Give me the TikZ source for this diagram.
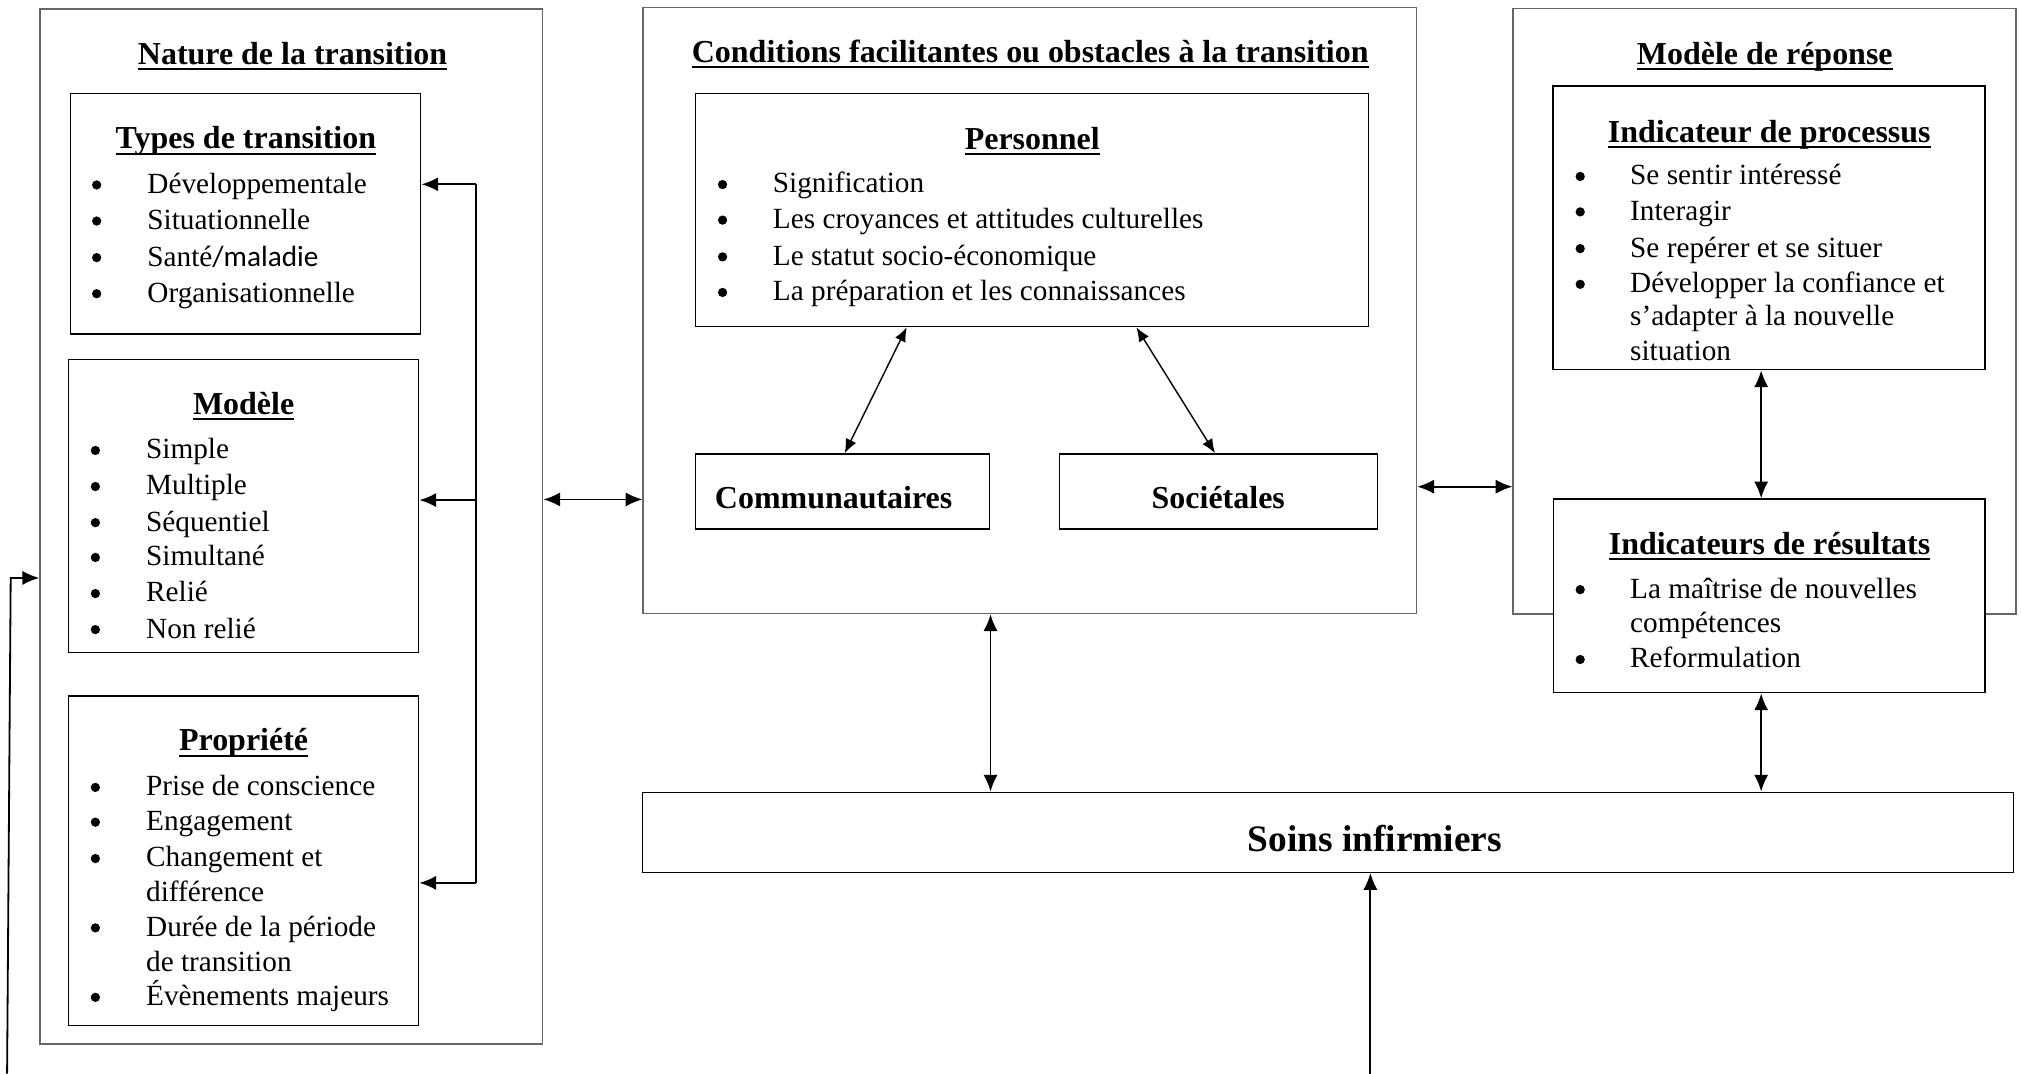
\documentclass[tikz,border=0pt]{standalone}
\usepackage{fontspec}
\setmainfont{Liberation Serif}
\newfontfamily\calibri{Carlito}
\usetikzlibrary{fit,arrows.meta}
\newcommand\ulh[1]{\setbox0\hbox{#1}\rlap{\rule[-2.3pt]{\wd0}{0.8pt}}\box0}
\newcommand\bodyf{\fontsize{11.35}{14}\selectfont}
\newcommand\headf{\fontsize{12.4}{15}\selectfont\bfseries}
\newcommand\bignf{\fontsize{14.5}{17}\selectfont\bfseries}
\newcommand\itm[5]{\node[bul] (#1b) at (#2,#4+0.5) {}; \node[btxt] (#1) at (#3,#4+7) {#5};}
\newcommand\cnt[4]{\node[btxt] (#1) at (#2,#3+7) {#4};}
\begin{document}
\begin{tikzpicture}[x=0.5pt,y=-0.5pt,
 box/.style={draw=black, line width=0.55pt, fill=white, inner sep=0pt},
 obox/.style={draw=black!60, line width=0.6pt, fill=white, inner sep=0pt},
 htxt/.style={anchor=base, inner sep=0pt, font=\headf},
 btxt/.style={anchor=base west, inner sep=0pt, font=\bodyf},
 bul/.style={circle, fill=black, inner sep=0pt, minimum size=3.6pt},
 arr/.style={line width=0.7pt, -{Latex[length=6.5pt,width=5.5pt]}},
 darr/.style={line width=0.7pt, {Latex[length=6.5pt,width=5.5pt]}-{Latex[length=6.5pt,width=5.5pt]}},
 sarr/.style={line width=0.55pt, {Latex[length=5.5pt,width=4.5pt]}-{Latex[length=5.5pt,width=4.5pt]}},
]
\useasboundingbox[fill=white] (0,0) rectangle (1568,833);

% outer boxes
\node[obox, fit={(31,7)(421,810)}] (nature) {};
\node[obox, fit={(499,6)(1099,476)}] (cond) {};
\node[obox, fit={(1174,6.5)(1564,476.5)}] (rep) {};
% inner boxes
\node[box, fit={(54.5,72.5)(326.4,259)}] (types) {};
\node[box, fit={(53,278.8)(324.8,506.2)}] (modele) {};
\node[box, fit={(53,540)(324.8,795.6)}] (prop) {};
\node[box, fit={(539.7,72.7)(1061.7,253.4)}] (pers) {};
\node[box, fit={(539.7,352.2)(767.7,410.5)}] (comm) {};
\node[box, fit={(822,352.2)(1068.8,410.5)}] (soc) {};
\node[box, fit={(1204.8,66.6)(1540,286.8)}] (proc) {};
\node[box, fit={(1205.3,387.2)(1540.2,537.5)}] (res) {};
\node[box, fit={(498.6,614.7)(1562.3,676.8)}] (soins) {};

% titles
\node[htxt] (tnat) at (227,49.8) {\ulh{Nature de la transition}};
\node[htxt] (ttyp) at (190.8,115.4) {\ulh{Types de transition}};
\node[htxt] (tmod) at (189,321.3) {\ulh{Modèle}};
\node[htxt] (tprop) at (189,582.4) {\ulh{Propriété}};
\node[htxt] (tcond) at (799.3,48.4) {\ulh{Conditions facilitantes ou obstacles à la transition}};
\node[htxt] (tpers) at (800.9,115.9) {\ulh{Personnel}};
\node[htxt] (tcomm) at (646.8,394.2) {Communautaires};
\node[htxt] (tsoc) at (945.2,394.2) {Sociétales};
\node[htxt] (trep) at (1369.2,49.7) {\ulh{Modèle de réponse}};
\node[htxt] (tproc) at (1372.7,110.3) {\ulh{Indicateur de processus}};
\node[htxt] (tres) at (1372.9,430.2) {\ulh{Indicateurs de résultats}};
\node[htxt, font=\bignf] (tsoins) at (1066.7,661) {Soins infirmiers};

% Types de transition
\itm{ty1}{75}{114}{143}{Développementale}
\itm{ty2}{75}{114}{171}{Situationnelle}
\itm{ty3}{75}{114}{199.4}{Santé{\calibri/maladie}}
\itm{ty4}{75}{114}{227.4}{Organisationnelle}
% Modele
\itm{mo1}{74}{113}{349}{Simple}
\itm{mo2}{74}{113}{377}{Multiple}
\itm{mo3}{74}{113}{405}{Séquentiel}
\itm{mo4}{74}{113}{432}{Simultané}
\itm{mo5}{74}{113}{460}{Relié}
\itm{mo6}{74}{113}{488}{Non relié}
% Propriete
\itm{pr1}{74}{113}{610.4}{Prise de conscience}
\itm{pr2}{74}{113}{637.4}{Engagement}
\itm{pr3}{74}{113}{665.6}{Changement et}
\cnt{pr3c}{113}{692.5}{différence}
\itm{pr4}{74}{113}{719.4}{Durée de la période}
\cnt{pr4c}{113}{746.4}{de transition}
\itm{pr5}{74}{113}{773.3}{Évènements majeurs}
% Personnel
\itm{pe1}{560.6}{599.3}{142.7}{Signification}
\itm{pe2}{560.6}{599.3}{170.3}{Les croyances et attitudes culturelles}
\itm{pe3}{560.6}{599.3}{198.8}{Le statut socio-économique}
\itm{pe4}{560.6}{599.3}{226.4}{La préparation et les connaissances}
% Indicateur de processus
\itm{ip1}{1226}{1264.4}{136.4}{Se sentir intéressé}
\itm{ip2}{1226}{1264.4}{163.9}{Interagir}
\itm{ip3}{1226}{1264.4}{192.4}{Se repérer et se situer}
\itm{ip4}{1226}{1264.4}{220.1}{Développer la confiance et}
\cnt{ip4c}{1264.4}{245.8}{s’adapter à la nouvelle}
\cnt{ip4d}{1264.4}{272.5}{situation}
% Indicateurs de resultats
\itm{ir1}{1226}{1264.4}{457}{La maîtrise de nouvelles}
\cnt{ir1c}{1264.4}{483.4}{compétences}
\itm{ir2}{1226}{1264.4}{511.2}{Reformulation}

% bracket connector on the left panel
\coordinate (brT) at (369,143);
\coordinate (brM) at (369,388);
\coordinate (brB) at (369,685);
\draw[line width=0.8pt] (brT) -- (brB);
\draw[arr, line width=0.8pt] (brT) -- (types.east |- brT);
\draw[arr, line width=0.8pt] (brM) -- (modele.east |- brM);
\draw[arr, line width=0.8pt] (brB) -- (prop.east |- brB);

% long left arrow
\coordinate (lb) at (5.5,833);
\coordinate (lt) at (8.3,448.4);
\draw[arr] (lb) -- (lt) -- (nature.west |- lt);

% horizontal double arrows
\coordinate (h1) at (460,387.5);
\draw[darr] (nature.east |- h1) -- (cond.west |- h1);
\coordinate (h2) at (1136,377.6);
\draw[darr] (cond.east |- h2) -- (rep.west |- h2);

% inside conditions
\draw[sarr] ([xshift=82.15pt]pers.south west) -- ([xshift=58.1pt]comm.north west);
\draw[sarr] ([xshift=171.25pt]pers.south west) -- ([xshift=60.6pt]soc.north west);

% vertical arrows
\coordinate (v1) at (1366.4,330);
\draw[darr] (proc.south -| v1) -- (res.north -| v1);
\draw[darr] (res.south -| v1) -- (soins.north -| v1);
\coordinate (v2) at (768.5,540);
\draw[darr] (cond.south -| v2) -- (soins.north -| v2);
\coordinate (bot) at (1063.2,833);
\draw[arr] (bot) -- (soins.south -| bot);
\end{tikzpicture}
\end{document}
